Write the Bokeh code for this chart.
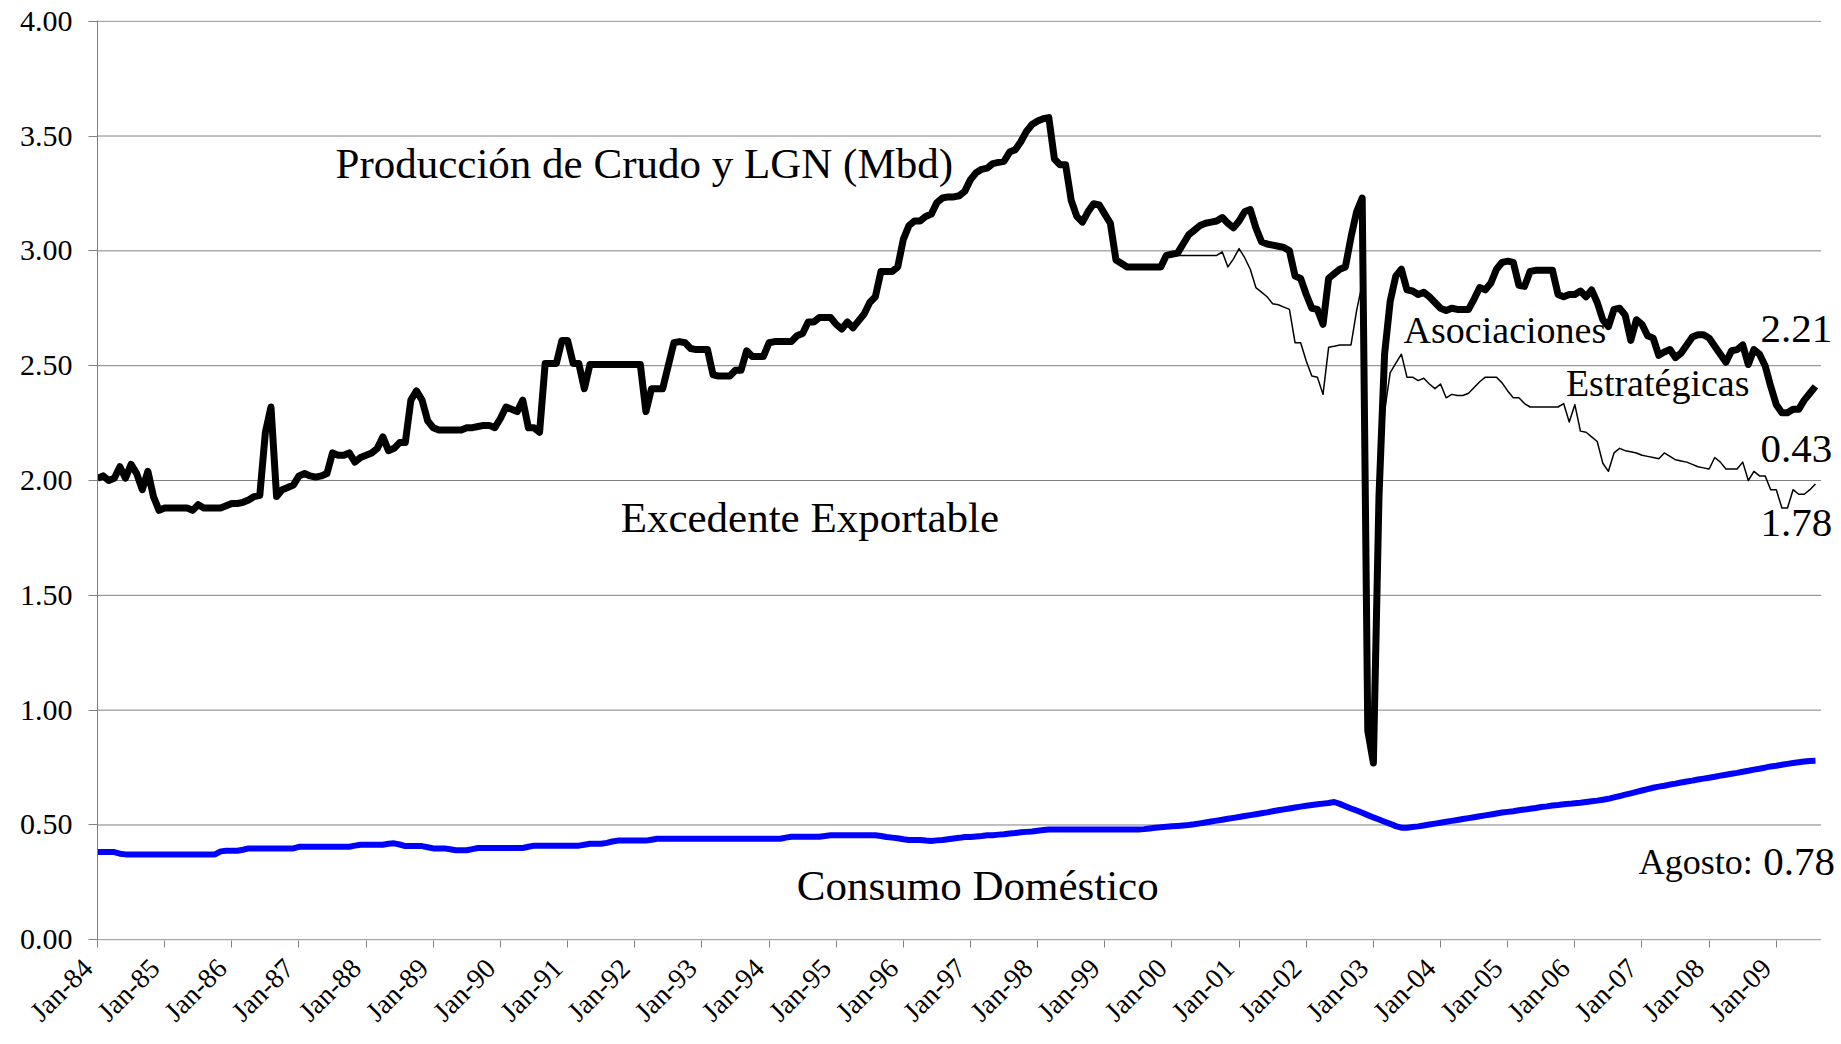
import math
from bokeh.plotting import figure
from bokeh.models import ColumnDataSource, FixedTicker, Label, Range1d, NumeralTickFormatter
from bokeh.embed import file_html
from bokeh.resources import INLINE

# ---------------- data (monthly, Jan-84 .. Aug-09) ----------------
tick_labels = ["Jan-84", "Jan-85", "Jan-86", "Jan-87", "Jan-88", "Jan-89", "Jan-90",
               "Jan-91", "Jan-92", "Jan-93", "Jan-94", "Jan-95", "Jan-96", "Jan-97",
               "Jan-98", "Jan-99", "Jan-00", "Jan-01", "Jan-02", "Jan-03", "Jan-04",
               "Jan-05", "Jan-06", "Jan-07", "Jan-08", "Jan-09"]
y_ticks = [0.0, 0.5, 1.0, 1.5, 2.0, 2.5, 3.0, 3.5, 4.0]
n_categories = 308  # Jan-84 .. Aug-09 (category axis length)

# Producción de Crudo y LGN (thick black line)
prod_1984 = [2.01, 2.02, 2.00, 2.01, 2.06, 2.01, 2.07, 2.03, 1.96, 2.04, 1.93, 1.87]
prod_1985 = [1.88, 1.88, 1.88, 1.88, 1.88, 1.87, 1.895, 1.88, 1.88, 1.88, 1.88, 1.89]
prod_1986 = [1.90, 1.90, 1.905, 1.915, 1.93, 1.935, 2.21, 2.32, 1.93, 1.96, 1.97, 1.98]
prod_1987 = [2.02, 2.03, 2.02, 2.015, 2.02, 2.03, 2.12, 2.11, 2.11, 2.12, 2.08, 2.10]
prod_1988 = [2.11, 2.12, 2.14, 2.19, 2.13, 2.14, 2.165, 2.165, 2.35, 2.39, 2.35, 2.26]
prod_1989 = [2.23, 2.22, 2.22, 2.22, 2.22, 2.22, 2.23, 2.23, 2.235, 2.24, 2.24, 2.23]
prod_1990 = [2.27, 2.32, 2.31, 2.30, 2.35, 2.23, 2.23, 2.21, 2.51, 2.51, 2.51, 2.61]
prod_1991 = [2.61, 2.51, 2.51, 2.40, 2.505, 2.505, 2.505, 2.505, 2.505, 2.505, 2.505, 2.505]
prod_1992 = [2.505, 2.505, 2.30, 2.40, 2.40, 2.40, 2.50, 2.60, 2.605, 2.60, 2.575, 2.57]
prod_1993 = [2.57, 2.57, 2.46, 2.455, 2.455, 2.455, 2.48, 2.48, 2.565, 2.54, 2.54, 2.54]
prod_1994 = [2.60, 2.605, 2.605, 2.605, 2.605, 2.63, 2.64, 2.69, 2.69, 2.71, 2.71, 2.71]
prod_1995 = [2.68, 2.66, 2.69, 2.665, 2.695, 2.725, 2.775, 2.80, 2.91, 2.91, 2.91, 2.93]
prod_1996 = [3.05, 3.11, 3.13, 3.13, 3.15, 3.16, 3.21, 3.23, 3.235, 3.235, 3.24, 3.26]
prod_1997 = [3.31, 3.34, 3.355, 3.36, 3.38, 3.385, 3.39, 3.43, 3.44, 3.475, 3.52, 3.55]
prod_1998 = [3.565, 3.575, 3.58, 3.40, 3.375, 3.375, 3.22, 3.15, 3.125, 3.17, 3.205, 3.20]
prod_1999 = [3.16, 3.12, 2.96, 2.945, 2.93, 2.93, 2.93, 2.93, 2.93, 2.93, 2.93, 2.98]
prod_2000 = [2.985, 2.99, 3.03, 3.07, 3.09, 3.11, 3.12, 3.125, 3.13, 3.145, 3.12, 3.10]
prod_2001 = [3.13, 3.17, 3.18, 3.10, 3.04, 3.03, 3.025, 3.02, 3.015, 3.00, 2.89, 2.88]
prod_2002 = [2.81, 2.75, 2.745, 2.68, 2.88, 2.90, 2.92, 2.93, 3.06, 3.17, 3.23, 0.91]
prod_2003 = [0.77, 1.93, 2.55, 2.78, 2.89, 2.92, 2.83, 2.825, 2.81, 2.82, 2.80, 2.775]
prod_2004 = [2.75, 2.74, 2.75, 2.745, 2.745, 2.745, 2.79, 2.84, 2.83, 2.86, 2.92, 2.95]
prod_2005 = [2.955, 2.95, 2.85, 2.845, 2.91, 2.915, 2.915, 2.915, 2.915, 2.81, 2.80, 2.81]
prod_2006 = [2.81, 2.825, 2.80, 2.83, 2.775, 2.70, 2.67, 2.745, 2.75, 2.72, 2.61, 2.70]
prod_2007 = [2.68, 2.63, 2.62, 2.545, 2.56, 2.57, 2.535, 2.555, 2.59, 2.625, 2.635, 2.635]
prod_2008 = [2.62, 2.585, 2.55, 2.515, 2.565, 2.57, 2.59, 2.505, 2.57, 2.55, 2.50, 2.41]
prod_2009 = [2.33, 2.295, 2.295, 2.31, 2.31, 2.35, 2.38, 2.41]

# Producción sin Asociaciones Estratégicas (thin black line, from Jan-00)
sin_aso_2000 = [2.98, 2.98, 2.98, 2.98, 2.98, 2.98, 2.98, 2.98, 2.98, 2.995, 2.93, 2.965]
sin_aso_2001 = [3.01, 2.97, 2.92, 2.84, 2.82, 2.80, 2.77, 2.765, 2.755, 2.745, 2.60, 2.60]
sin_aso_2002 = [2.52, 2.455, 2.45, 2.375, 2.58, 2.585, 2.59, 2.59, 2.59, 2.74, 2.855, 0.91]
sin_aso_2003 = [0.77, 1.85, 2.30, 2.47, 2.51, 2.55, 2.45, 2.45, 2.435, 2.445, 2.42, 2.40]
sin_aso_2004 = [2.42, 2.36, 2.375, 2.37, 2.37, 2.38, 2.405, 2.43, 2.45, 2.45, 2.45, 2.425]
sin_aso_2005 = [2.39, 2.36, 2.36, 2.335, 2.32, 2.32, 2.32, 2.32, 2.32, 2.32, 2.335, 2.255]
sin_aso_2006 = [2.33, 2.215, 2.21, 2.19, 2.17, 2.075, 2.04, 2.12, 2.14, 2.13, 2.125, 2.12]
sin_aso_2007 = [2.11, 2.105, 2.10, 2.095, 2.12, 2.105, 2.09, 2.085, 2.08, 2.07, 2.06, 2.055]
sin_aso_2008 = [2.05, 2.10, 2.08, 2.05, 2.05, 2.05, 2.08, 2.00, 2.04, 2.02, 2.02, 1.96]
sin_aso_2009 = [1.96, 1.88, 1.88, 1.96, 1.94, 1.94, 1.96, 1.985]

# Consumo Doméstico (blue line)
cons_1984 = [0.382, 0.382, 0.382, 0.382, 0.375, 0.372, 0.372, 0.372, 0.372, 0.372, 0.372, 0.372]
cons_1985 = [0.372, 0.372, 0.372, 0.372, 0.372, 0.372, 0.372, 0.372, 0.372, 0.372, 0.385, 0.388]
cons_1986 = [0.388, 0.388, 0.392, 0.398, 0.398, 0.398, 0.398, 0.398, 0.398, 0.398, 0.398, 0.398]
cons_1987 = [0.405, 0.405, 0.405, 0.405, 0.405, 0.405, 0.405, 0.405, 0.405, 0.405, 0.41, 0.414]
cons_1988 = [0.414, 0.414, 0.414, 0.414, 0.418, 0.42, 0.415, 0.408, 0.408, 0.408, 0.408, 0.403]
cons_1989 = [0.398, 0.398, 0.398, 0.394, 0.39, 0.39, 0.39, 0.395, 0.40, 0.40, 0.40, 0.40]
cons_1990 = [0.40, 0.40, 0.40, 0.40, 0.40, 0.405, 0.41, 0.41, 0.41, 0.41, 0.41, 0.41]
cons_1991 = [0.41, 0.41, 0.41, 0.414, 0.418, 0.418, 0.418, 0.422, 0.428, 0.432, 0.432, 0.432]
cons_1992 = [0.432, 0.432, 0.432, 0.436, 0.44, 0.44, 0.44, 0.44, 0.44, 0.44, 0.44, 0.44]
cons_1993 = [0.44, 0.44, 0.44, 0.44, 0.44, 0.44, 0.44, 0.44, 0.44, 0.44, 0.44, 0.44]
cons_1994 = [0.44, 0.44, 0.44, 0.445, 0.449, 0.449, 0.449, 0.449, 0.449, 0.449, 0.452, 0.455]
cons_1995 = [0.455, 0.455, 0.455, 0.455, 0.455, 0.455, 0.455, 0.455, 0.452, 0.448, 0.445, 0.442]
cons_1996 = [0.438, 0.435, 0.435, 0.435, 0.432, 0.43, 0.433, 0.435, 0.438, 0.441, 0.444, 0.448]
cons_1997 = [0.448, 0.45, 0.452, 0.455, 0.455, 0.458, 0.46, 0.463, 0.465, 0.468, 0.47, 0.472]
cons_1998 = [0.475, 0.478, 0.48, 0.48, 0.48, 0.48, 0.48, 0.48, 0.48, 0.48, 0.48, 0.48]
cons_1999 = [0.48, 0.48, 0.48, 0.48, 0.48, 0.48, 0.48, 0.482, 0.485, 0.488, 0.49, 0.492]
cons_2000 = [0.494, 0.496, 0.498, 0.50, 0.503, 0.507, 0.511, 0.515, 0.519, 0.523, 0.527, 0.531]
cons_2001 = [0.535, 0.539, 0.543, 0.547, 0.551, 0.555, 0.56, 0.564, 0.568, 0.572, 0.576, 0.58]
cons_2002 = [0.584, 0.587, 0.59, 0.593, 0.596, 0.60, 0.592, 0.582, 0.572, 0.563, 0.553, 0.543]
cons_2003 = [0.533, 0.524, 0.514, 0.505, 0.495, 0.488, 0.488, 0.491, 0.494, 0.498, 0.502, 0.506]
cons_2004 = [0.51, 0.514, 0.518, 0.522, 0.526, 0.53, 0.534, 0.538, 0.542, 0.546, 0.55, 0.554]
cons_2005 = [0.557, 0.56, 0.564, 0.567, 0.571, 0.574, 0.578, 0.581, 0.585, 0.587, 0.59, 0.592]
cons_2006 = [0.595, 0.597, 0.60, 0.603, 0.606, 0.61, 0.614, 0.62, 0.626, 0.632, 0.638, 0.644]
cons_2007 = [0.65, 0.656, 0.662, 0.667, 0.671, 0.676, 0.68, 0.685, 0.689, 0.693, 0.698, 0.702]
cons_2008 = [0.706, 0.71, 0.715, 0.719, 0.723, 0.727, 0.732, 0.736, 0.741, 0.745, 0.75, 0.755]
cons_2009 = [0.758, 0.762, 0.766, 0.77, 0.773, 0.776, 0.779, 0.78]

# ---------------- assemble ----------------
produccion = (prod_1984 + prod_1985 + prod_1986 + prod_1987 + prod_1988 + prod_1989 +
              prod_1990 + prod_1991 + prod_1992 + prod_1993 + prod_1994 + prod_1995 +
              prod_1996 + prod_1997 + prod_1998 + prod_1999 + prod_2000 + prod_2001 +
              prod_2002 + prod_2003 + prod_2004 + prod_2005 + prod_2006 + prod_2007 +
              prod_2008 + prod_2009)
sin_asociaciones = (sin_aso_2000 + sin_aso_2001 + sin_aso_2002 + sin_aso_2003 + sin_aso_2004 +
                    sin_aso_2005 + sin_aso_2006 + sin_aso_2007 + sin_aso_2008 + sin_aso_2009)
consumo = (cons_1984 + cons_1985 + cons_1986 + cons_1987 + cons_1988 + cons_1989 +
           cons_1990 + cons_1991 + cons_1992 + cons_1993 + cons_1994 + cons_1995 +
           cons_1996 + cons_1997 + cons_1998 + cons_1999 + cons_2000 + cons_2001 +
           cons_2002 + cons_2003 + cons_2004 + cons_2005 + cons_2006 + cons_2007 +
           cons_2008 + cons_2009)

months = list(range(len(produccion)))
start_sin = 12 * 16  # Jan-00
months_sin = list(range(start_sin, start_sin + len(sin_asociaciones)))

src_prod = ColumnDataSource(dict(x=months, y=produccion))
src_sin = ColumnDataSource(dict(x=months_sin, y=sin_asociaciones))
src_cons = ColumnDataSource(dict(x=months, y=consumo))
src_grid = ColumnDataSource(dict(x0=[0] * len(y_ticks), x1=[n_categories] * len(y_ticks),
                                 y=y_ticks))

FONT = "Liberation Serif"
GRAY = "#808080"

W, H = 1841, 1044
LEFT, RIGHT, TOP, BOTTOM = 97, 0, 20, 104
px_per_month = 5.596
x_span = (W - LEFT - RIGHT) / px_per_month

p = figure(width=W, height=H, output_backend="svg", toolbar_location=None,
           x_range=Range1d(0, x_span), y_range=Range1d(-0.003, 4.003),
           min_border_left=LEFT, min_border_right=RIGHT,
           min_border_top=TOP, min_border_bottom=BOTTOM)
p.outline_line_color = None
p.background_fill_color = "white"
p.border_fill_color = "white"
p.xgrid.grid_line_color = None
p.ygrid.grid_line_color = None

# horizontal gridlines, limited to the category span
p.segment(x0="x0", x1="x1", y0="y", y1="y", source=src_grid, line_color=GRAY, line_width=1)

# y axis
p.yaxis.ticker = FixedTicker(ticks=y_ticks)
p.yaxis.formatter = NumeralTickFormatter(format="0.00")
p.yaxis.axis_line_color = GRAY
p.yaxis.major_tick_line_color = GRAY
p.yaxis.major_tick_out = 9
p.yaxis.major_tick_in = 0
p.yaxis.minor_tick_line_color = None
p.yaxis.major_label_text_font = FONT
p.yaxis.major_label_text_font_size = "30px"
p.yaxis.major_label_text_color = "black"
p.yaxis.major_label_standoff = 16

# x axis (trailing no-break spaces push each rotated label down-left, as in the original)
x_ticks = [12 * i for i in range(len(tick_labels))]
p.xaxis.ticker = FixedTicker(ticks=x_ticks)
p.xaxis.major_label_overrides = {t: lab + "\u00a0\u00a0" for t, lab in zip(x_ticks, tick_labels)}
p.xaxis.major_label_orientation = math.pi / 4
p.xaxis.axis_line_color = None
p.xaxis.major_tick_line_color = GRAY
p.xaxis.major_tick_out = 7
p.xaxis.major_tick_in = 0
p.xaxis.minor_tick_line_color = None
p.xaxis.major_label_text_font = FONT
p.xaxis.major_label_text_font_size = "28px"
p.xaxis.major_label_text_color = "black"
p.xaxis.major_label_standoff = 6

# lines
p.line("x", "y", source=src_cons, line_color="#0000FF", line_width=6, line_join="round")
p.line("x", "y", source=src_sin, line_color="black", line_width=1.5, line_join="round")
p.line("x", "y", source=src_prod, line_color="black", line_width=7, line_join="round")

# annotations
def add_label(x, y, text, size, align="left"):
    p.add_layout(Label(x=x, y=y, text=text, text_font=FONT, text_font_size=size,
                       text_color="black", text_align=align, text_baseline="alphabetic"))

add_label(97.7, 3.38, "Producción de Crudo y LGN (Mbd)", "43px", "center")
add_label(127.3, 1.84, "Excedente Exportable", "43px", "center")
add_label(157.3, 0.235, "Consumo Doméstico", "43px", "center")
add_label(233.4, 2.655, "Asociaciones", "38px", "left")
add_label(262.4, 2.425, "Estratégicas", "38px", "left")
add_label(310.0, 2.66, "2.21", "41px", "right")
add_label(310.0, 2.135, "0.43", "41px", "right")
add_label(310.0, 1.815, "1.78", "41px", "right")
add_label(295.8, 0.34, "Agosto:", "36px", "right")
add_label(310.5, 0.34, "0.78", "41px", "right")

open("out.html", "w").write(file_html(p, INLINE))
